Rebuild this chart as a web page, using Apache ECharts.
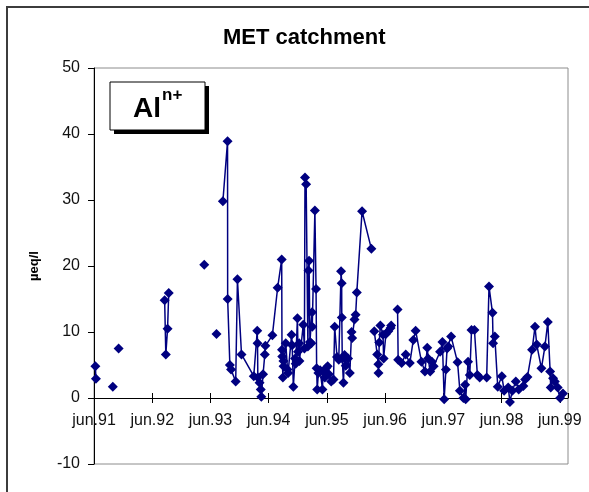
<!DOCTYPE html>
<html>
<head>
<meta charset="utf-8">
<script src="https://cdn.jsdelivr.net/npm/echarts@6/dist/echarts.min.js"></script>
<style>
  html, body { margin: 0; padding: 0; background: #fff; }
  #chart { width: 589px; height: 492px; }
</style>
</head>
<body>
<div id="chart"></div>
<script>
// Sampling dates (decimal years) and dissolved aluminium Al(n+) in µeq/l.
// A null value marks a gap in the record (the line is broken there).
const sampleYear = [
  1991.44, 1991.45, 1991.60, 1991.74, 1991.79, 1991.84, 1992.20,
  1992.63, 1992.65, 1992.68, 1992.70, 1993.00,
  1993.31, 1993.42, 1993.52, 1993.58,
  1993.63, 1993.71, 1993.712, 1993.75, 1993.77, 1993.85, 1993.88, 1993.95,
  1994.16, 1994.22, 1994.225, 1994.23, 1994.26, 1994.28, 1994.29, 1994.32, 1994.35, 1994.36,
  1994.48, 1994.57, 1994.64, 1994.645, 1994.65, 1994.66, 1994.67, 1994.672,
  1994.71, 1994.74, 1994.75, 1994.81, 1994.82, 1994.84, 1994.87, 1994.88,
  1994.91, 1994.92, 1994.94, 1994.945, 1995.01, 1995.03, 1995.04, 1995.06,
  1995.09, 1995.10, 1995.11, 1995.125, 1995.15, 1995.16, 1995.165,
  1995.21, 1995.23, 1995.24, 1995.25, 1995.27, 1995.30, 1995.34, 1995.35,
  1995.38, 1995.40, 1995.43, 1995.45, 1995.49, 1995.53, 1995.55, 1995.59, 1995.62,
  1995.66, 1995.67, 1995.672, 1995.68, 1995.70, 1995.72, 1995.74, 1995.78,
  1995.81, 1995.84, 1995.85, 1995.89, 1995.91, 1995.93, 1996.02, 1996.18, 1996.20,
  1996.23, 1996.28, 1996.30, 1996.302, 1996.315, 1996.335, 1996.38, 1996.39,
  1996.43, 1996.47, 1996.51, 1996.52, 1996.58,
  1996.63, 1996.64, 1996.70, 1996.77, 1996.84, 1996.90, 1996.94,
  1997.04, 1997.10, 1997.14, 1997.155, 1997.19, 1997.22, 1997.25,
  1997.36, 1997.40, 1997.43, 1997.46, 1997.48, 1997.50, 1997.55,
  1997.66, 1997.70, 1997.76, 1997.79, 1997.80, 1997.84, 1997.87, 1997.90, 1997.95,
  1998.00, 1998.04, 1998.16, 1998.20, 1998.26, 1998.27, 1998.30, 1998.35,
  1998.42, 1998.46, 1998.53, 1998.56, 1998.60, 1998.66, 1998.71, 1998.79,
  1998.82, 1998.86, 1998.94, 1998.99, 1999.02, 1999.10, 1999.16, 1999.21,
  1999.25, 1999.26, 1999.30, 1999.33, 1999.38, 1999.42, 1999.47
];
const alValue = [
  4.8, 2.9, null, 1.7, null, 7.5, null,
  14.8, 6.6, 10.5, 15.9, null,
  20.2, null, 9.7, null,
  29.8, 38.9, 15.0, 5.0, 4.3, 2.5, 18.0, 6.6,
  3.3, 10.2, 8.3, 3.1, 2.3, 1.3, 0.2, 3.6, 6.6, 7.9,
  9.5, 16.7, 21.0, 7.3, 6.3, 3.1, 5.6, 4.8,
  8.3, 4.3, 3.8, 9.6, 8.0, 1.7, 6.0, 5.2,
  12.1, 7.0, 8.3, 5.6, 11.1, 7.5, 33.4, 32.4,
  7.8, 19.3, 20.8, 8.5, 8.3, 13.0, 10.8,
  28.4, 16.5, 4.5, 1.3, 3.8, 4.2, 1.3, 4.0,
  3.1, 4.5, 4.8, 3.6, 2.5, 2.8, 10.8, 6.2, 5.8,
  19.2, 17.4, 12.2, 6.0, 2.3, 6.5, 4.9, 6.0,
  3.8, 10.0, 9.1, 11.9, 12.6, 16.0, 28.3, 22.6, null,
  10.1, 6.6, 5.1, 3.8, 8.4, 11.0, 9.6, 6.0,
  9.7, 10.1, 10.6, 11.0, null,
  13.4, 5.8, 5.3, 6.6, 5.3, 8.8, 10.2,
  5.5, 4.0, 7.6, 6.0, 4.0, 5.5, 4.8,
  7.0, 8.5, -0.2, 4.3, 7.5, 7.8, 9.3,
  5.4, 1.1, 0.0, 2.0, -0.2, 5.5, 3.5, 10.3, 10.3,
  3.5, 3.1, 3.1, 16.9, 12.9, 8.3, 9.3, 1.7,
  3.3, 1.1, 1.6, -0.6, 1.1, 2.5, 1.3, 1.8,
  2.8, 3.2, 7.3, 10.8, 8.1, 4.5, 7.8, 11.5,
  4.0, 1.6, 3.0, 2.5, 1.6, 0.0, 0.7
];

// Axis ticks: every June from 1991 to 1999
const tickYears = [91, 92, 93, 94, 95, 96, 97, 98, 99];
const yTicks = { min: -10, max: 50, step: 10 };

// The x axis counts years from 1 June 1991
const origin = 1991 + 5 / 12;
const xMax = 8.14;

const points = sampleYear.map((t, i) => [t - origin, alValue[i] === null ? '-' : alValue[i]]);

// plot box in pixels; the date axis is drawn across the zero line
const plot = { left: 94, top: 68, right: 21, bottom: 28, height: 396 };
const zeroOffset = -Math.round(plot.height * (0 - yTicks.min) / (yTicks.max - yTicks.min));

const chart = echarts.init(document.getElementById('chart'), null, { renderer: 'canvas' });

const font = '"Liberation Sans", Arial, sans-serif';

chart.setOption({
  animation: false,
  backgroundColor: '#fff',
  title: {
    text: 'MET catchment',
    left: 218,
    top: 22,
    textStyle: { fontFamily: font, fontSize: 22, fontWeight: 'bold', color: '#000' }
  },
  grid: {
    left: plot.left, top: plot.top, right: plot.right, bottom: plot.bottom,
    show: true, borderColor: '#8c8c8c', borderWidth: 1, backgroundColor: '#fff'
  },
  xAxis: [
    {
      type: 'value',
      min: 0, max: xMax, interval: 1,
      position: 'bottom',
      offset: zeroOffset,
      axisLine: { onZero: false, lineStyle: { color: '#000', width: 1 } },
      axisTick: { show: true, inside: false, length: 5, lineStyle: { color: '#000' } },
      axisLabel: {
        margin: 15,
        fontFamily: font, fontSize: 16, color: '#111',
        formatter: v => {
          const k = Math.round(v);
          return tickYears[k] !== undefined ? 'jun.' + tickYears[k] : '';
        },
        showMaxLabel: false
      },
      splitLine: { show: false }
    },
    {
      type: 'value',
      min: 0, max: xMax, interval: 1,
      position: 'bottom',
      offset: zeroOffset,
      axisLine: { show: false, onZero: false },
      axisTick: { show: true, inside: true, length: 5, lineStyle: { color: '#000' } },
      axisLabel: { show: false },
      splitLine: { show: false }
    }
  ],
  yAxis: {
    type: 'value',
    min: yTicks.min, max: yTicks.max, interval: yTicks.step,
    name: 'µeq/l',
    nameLocation: 'middle',
    nameGap: 53,
    nameRotate: 90,
    nameTextStyle: { fontFamily: font, fontSize: 13, fontWeight: 'bold', color: '#000' },
    axisLine: { show: true, onZero: false, lineStyle: { color: '#000', width: 1 } },
    axisTick: { show: true, inside: false, length: 6, lineStyle: { color: '#000' } },
    axisLabel: { margin: 14, fontFamily: font, fontSize: 16, color: '#111' },
    splitLine: { show: false }
  },
  series: [{
    type: 'line',
    xAxisIndex: 0,
    data: points,
    connectNulls: false,
    symbol: 'diamond',
    symbolSize: 10,
    showAllSymbol: true,
    lineStyle: { color: '#000080', width: 1.5 },
    itemStyle: { color: '#000080', borderWidth: 0 },
    emphasis: { disabled: true }
  }],
  graphic: [
    // chart frame
    { type: 'rect', shape: { x: 7, y: 7, width: 640, height: 600 },
      style: { fill: 'none', stroke: '#3c3c3c', lineWidth: 2 }, silent: true, z: 100 },
    // label box with drop shadow
    { type: 'rect', shape: { x: 114, y: 86, width: 95, height: 48 },
      style: { fill: '#000' }, z: 100 },
    { type: 'rect', shape: { x: 110, y: 82, width: 95, height: 48 },
      style: { fill: '#fff', stroke: '#000', lineWidth: 1 }, z: 101 },
    { type: 'text', x: 133, y: 109, z: 102,
      style: { text: 'Al', font: 'bold 28px ' + font, fill: '#000', verticalAlign: 'middle', align: 'left' } },
    { type: 'text', x: 162, y: 95, z: 102,
      style: { text: 'n+', font: 'bold 17px ' + font, fill: '#000', verticalAlign: 'middle', align: 'left' } }
  ]
});
</script>
</body>
</html>
